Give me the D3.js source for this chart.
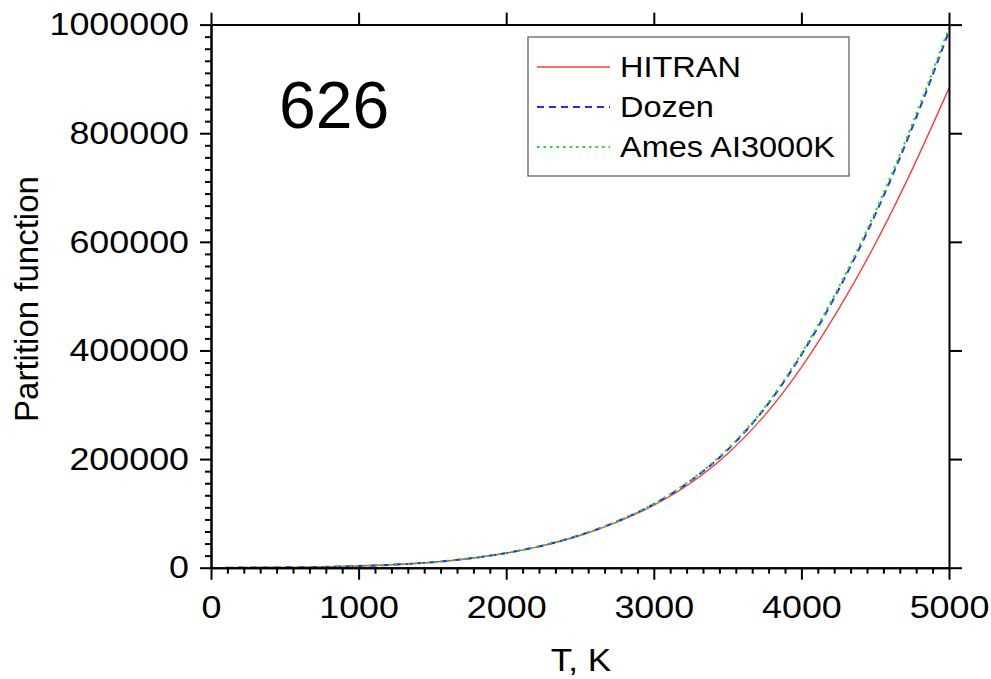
<!DOCTYPE html>
<html>
<head>
<meta charset="utf-8">
<script src="https://cdn.jsdelivr.net/npm/d3@7"></script>
<style>
  body { margin: 0; background: #fff; }
  svg { display: block; font-family: "Liberation Sans", Arial, sans-serif; }
</style>
</head>
<body>
<div id="chart"></div>
<script>
// Temperature grid (K)
const temps = [100, 250, 500, 750, 1000, 1250, 1500, 1750, 2000, 2250, 2500, 2750,
  3000, 3250, 3500, 3750, 4000, 4250, 4500, 4750, 5000];

// Partition function values
const hitran = [90, 230, 600, 1400, 3000, 5800, 10000, 17000, 27000, 40700, 59300, 84000,
  115000, 156000, 210000, 280000, 369000, 475000, 596000, 733000, 883000];
const dozen = [90, 230, 600, 1400, 3000, 5800, 10000, 17000, 27000, 41000, 60000, 85000,
  117000, 160000, 217000, 293000, 392000, 511000, 650000, 810000, 988000];
const ames = [90, 230, 600, 1400, 3000, 5800, 10000, 17000, 27000, 41000, 60000, 85000,
  117500, 161000, 218500, 295000, 395000, 515000, 655000, 816000, 994000];

const xTicks = [0, 1000, 2000, 3000, 4000, 5000];
const yTicks = [0, 200000, 400000, 600000, 800000, 1000000];

const series = [
  { name: "HITRAN", values: hitran, color: "#ff3b3b", dash: null, width: 1.4 },
  { name: "Dozen", values: dozen, color: "#2a2aff", dash: "7,5", width: 2 },
  { name: "Ames AI3000K", values: ames, color: "#22e022", dash: "2.5,4", width: 2 }
];

const width = 991, height = 679;
const plotLeft = 211, plotRight = 949, plotTop = 24.6, plotBottom = 567.7;

const svg = d3.select("#chart").append("svg")
  .attr("width", width)
  .attr("height", height);

const x = d3.scaleLinear().domain([0, 5000]).range([plotLeft, plotRight]);
const y = d3.scaleLinear().domain([0, 1000000]).range([plotBottom, plotTop]);

// minor ticks: 9 subdivisions between major ticks
const xMinor = d3.range(0, 46).filter(i => i % 9 !== 0).map(i => i * 1000 / 9).filter(v => v < 5000);
const yMinor = d3.range(0, 46).filter(i => i % 9 !== 0).map(i => i * 200000 / 9).filter(v => v < 1000000);

// the reference type is a bit wider than Liberation Sans
function stretch(sel, k) {
  sel.each(function() {
    const w = this.getComputedTextLength();
    d3.select(this).attr("textLength", w * k).attr("lengthAdjust", "spacingAndGlyphs");
  });
}

// curves first so axes sit on top
const line = d3.line()
  .x((d, i) => x(temps[i]))
  .y(d => y(d))
  .curve(d3.curveMonotoneX);

series.forEach(s => {
  svg.append("path")
    .datum(s.values)
    .attr("fill", "none")
    .attr("stroke", s.color)
    .attr("stroke-width", s.width)
    .attr("stroke-dasharray", s.dash)
    .attr("d", line);
});

function styleAxis(g) {
  g.selectAll("path, line").attr("stroke", "#000").attr("stroke-width", 2);
  g.selectAll("text").attr("fill", "#000").style("font-size", "32px").call(stretch, 1.12);
}

// bottom axis
svg.append("g")
  .attr("transform", `translate(0,${plotBottom})`)
  .call(d3.axisBottom(x).tickValues(xMinor).tickSize(6).tickSizeOuter(0).tickFormat(""))
  .call(styleAxis);
svg.append("g")
  .attr("transform", `translate(0,${plotBottom})`)
  .call(d3.axisBottom(x).tickValues(xTicks).tickSize(12).tickSizeOuter(0).tickPadding(16).tickFormat(d3.format("d")))
  .call(styleAxis);

// left axis
svg.append("g")
  .attr("transform", `translate(${plotLeft},0)`)
  .call(d3.axisLeft(y).tickValues(yMinor).tickSize(6).tickSizeOuter(0).tickFormat(""))
  .call(styleAxis);
svg.append("g")
  .attr("transform", `translate(${plotLeft},0)`)
  .call(d3.axisLeft(y).tickValues(yTicks).tickSize(11).tickSizeOuter(0).tickPadding(11).tickFormat(d3.format("d")))
  .call(styleAxis);

// top and right axes: major ticks only, no labels
svg.append("g")
  .attr("transform", `translate(0,${plotTop})`)
  .call(d3.axisTop(x).tickValues(xTicks).tickSize(12).tickSizeOuter(0).tickFormat(""))
  .call(styleAxis);
svg.append("g")
  .attr("transform", `translate(${plotRight},0)`)
  .call(d3.axisRight(y).tickValues(yTicks).tickSize(13).tickSizeOuter(0).tickFormat(""))
  .call(styleAxis);

// axis titles
svg.append("text")
  .attr("x", 581)
  .attr("y", 671)
  .attr("text-anchor", "middle")
  .style("font-size", "32px")
  .text("T, K")
  .call(stretch, 1.1);

svg.append("text")
  .attr("transform", `translate(38,299) rotate(-90)`)
  .attr("text-anchor", "middle")
  .style("font-size", "33px")
  .text("Partition function");

// isotopologue label
svg.append("text")
  .attr("x", 279)
  .attr("y", 128)
  .style("font-size", "66px")
  .text("626");

// legend
const legend = svg.append("g").attr("transform", "translate(528,37)");
legend.append("rect")
  .attr("width", 321)
  .attr("height", 139)
  .attr("fill", "#fff")
  .attr("stroke", "#555")
  .attr("stroke-width", 1.2);

series.forEach((s, i) => {
  const cy = 30 + i * 40;
  legend.append("line")
    .attr("x1", 9).attr("x2", 82)
    .attr("y1", cy).attr("y2", cy)
    .attr("stroke", s.color)
    .attr("stroke-width", s.width)
    .attr("stroke-dasharray", s.dash);
  legend.append("text")
    .attr("x", 92)
    .attr("y", cy + 10)
    .style("font-size", "29px")
    .text(s.name)
    .call(stretch, 1.12);
});
</script>
</body>
</html>
